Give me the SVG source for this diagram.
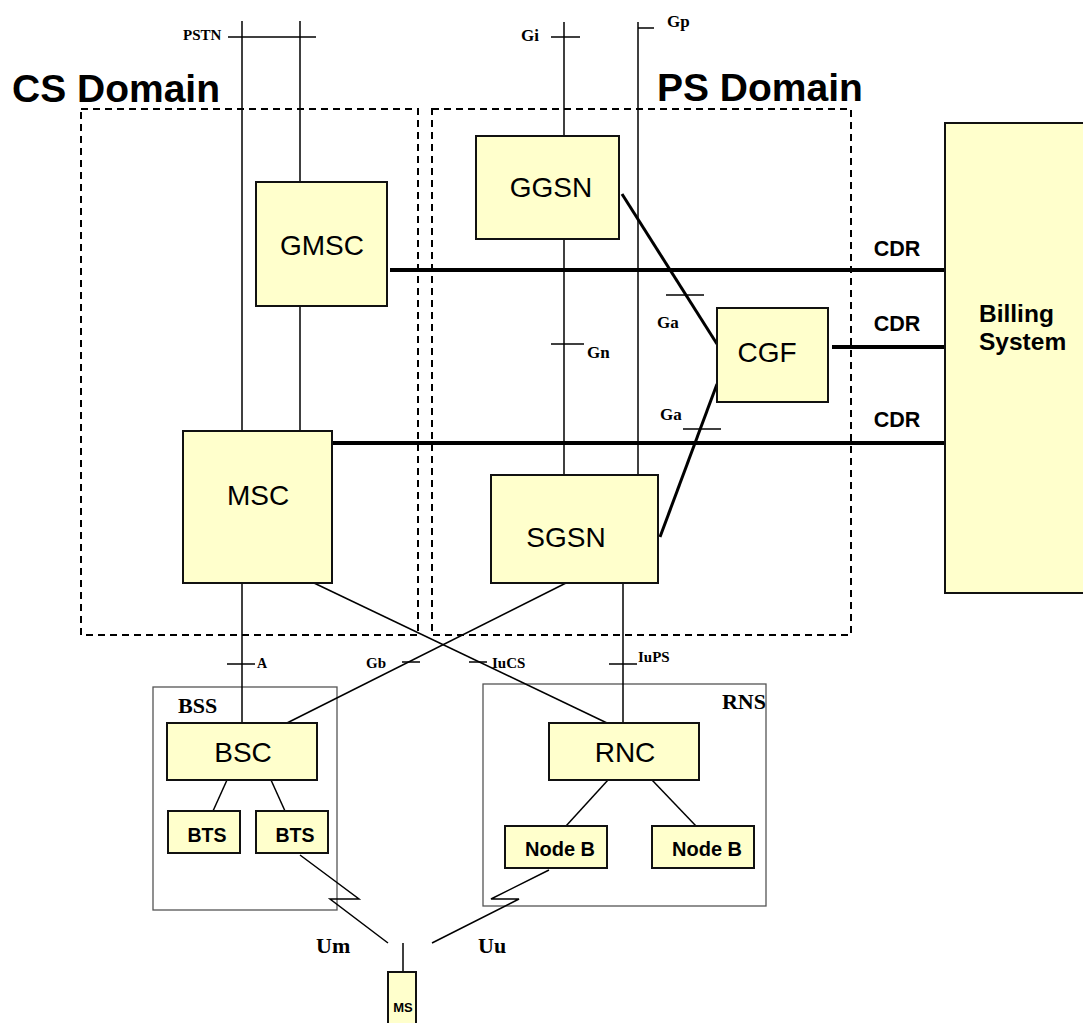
<svg xmlns="http://www.w3.org/2000/svg" width="1083" height="1023" viewBox="0 0 1083 1023">
<style>
.node{fill:#FFFFCC;stroke:#111;stroke-width:2}
.nt{font-family:"Liberation Sans",Arial,sans-serif;font-size:28px;fill:#000;text-anchor:middle}
.bt{font-family:"Liberation Sans",Arial,sans-serif;font-weight:bold;fill:#000}
.lab{font-family:"Liberation Serif","Times New Roman",serif;font-weight:bold;fill:#000}
.thin{stroke:#000;stroke-width:1.5;fill:none}
.thick{stroke:#000;stroke-width:4;fill:none}
.ga{stroke:#000;stroke-width:3;fill:none}
.dash{stroke:#000;stroke-width:2;fill:none;stroke-dasharray:7,5}
.sub{stroke:#555;stroke-width:1.3;fill:none}
</style>
<rect width="1083" height="1023" fill="#fff"/>
<g id="domains">
<rect class="dash" x="81" y="109" width="337" height="526"/>
<rect class="dash" x="432" y="109" width="419" height="526" stroke-width="2.5"/>
<text class="bt" x="12" y="102" font-size="39">CS Domain</text>
<text class="bt" x="657" y="101" font-size="39">PS Domain</text>
</g>
<g id="subsystems">
<rect class="sub" x="153" y="687" width="184" height="223"/>
<text class="lab" x="178" y="713" font-size="22">BSS</text>
<rect class="sub" x="483" y="684" width="283" height="222"/>
<text class="lab" x="766" y="709" font-size="22" text-anchor="end">RNS</text>
</g>
<g id="connectors">
<line class="thin" x1="242" y1="21" x2="242" y2="431"/>
<line class="thin" x1="300" y1="21" x2="300" y2="182"/>
<line class="thin" x1="300" y1="306" x2="300" y2="431"/>
<line class="thin" x1="228" y1="37" x2="316" y2="37"/>
<line class="thin" x1="564" y1="22" x2="564" y2="136"/>
<line class="thin" x1="564" y1="239" x2="564" y2="475"/>
<line class="thin" x1="551" y1="37" x2="580" y2="37"/>
<line class="thin" x1="638" y1="22" x2="638" y2="475"/>
<line class="thin" x1="638" y1="28" x2="654" y2="28"/>
<line class="thin" x1="551" y1="344" x2="584" y2="344"/>
<line class="thick" x1="390" y1="270" x2="946" y2="270"/>
<line class="thick" x1="832" y1="347" x2="946" y2="347"/>
<line class="thick" x1="333" y1="443" x2="946" y2="443"/>
<line class="ga" x1="622" y1="194" x2="717" y2="344"/>
<line class="thin" x1="666" y1="295" x2="704" y2="295"/>
<line class="ga" x1="717" y1="384" x2="660" y2="537"/>
<line class="thin" x1="683" y1="429" x2="721" y2="429"/>
<line class="thin" x1="242" y1="583" x2="242" y2="723"/>
<line class="thin" x1="227" y1="664" x2="255" y2="664"/>
<line class="thin" x1="566" y1="583" x2="287" y2="723"/>
<line class="thin" x1="402" y1="662" x2="420" y2="662"/>
<line class="thin" x1="314" y1="583" x2="607" y2="723"/>
<line class="thin" x1="469" y1="662" x2="487" y2="662"/>
<line class="thin" x1="623" y1="583" x2="623" y2="723"/>
<line class="thin" x1="609" y1="664" x2="637" y2="664"/>
<line class="thin" x1="227" y1="780" x2="213" y2="811"/>
<line class="thin" x1="271" y1="780" x2="285" y2="811"/>
<line class="thin" x1="608" y1="780" x2="566" y2="826"/>
<line class="thin" x1="652" y1="780" x2="696" y2="826"/>
<polyline class="thin" points="300,855 359,899 330,899 388,943"/>
<polyline class="thin" points="549,870 491,899 519,899 432,943"/>
<line class="thin" x1="403" y1="943" x2="403" y2="972"/>
</g>
<g id="labels">
<text class="lab" x="183" y="40" font-size="15">PSTN</text>
<text class="lab" x="521" y="41" font-size="17">Gi</text>
<text class="lab" x="667" y="27" font-size="17">Gp</text>
<text class="lab" x="587" y="358" font-size="17">Gn</text>
<text class="lab" x="657" y="328" font-size="17">Ga</text>
<text class="lab" x="660" y="420" font-size="17">Ga</text>
<text class="lab" x="257" y="668" font-size="14">A</text>
<text class="lab" x="366" y="668" font-size="15">Gb</text>
<text class="lab" x="492" y="668" font-size="15">IuCS</text>
<text class="lab" x="638" y="662" font-size="15">IuPS</text>
<text class="lab" x="316" y="953" font-size="22">Um</text>
<text class="lab" x="478" y="953" font-size="22">Uu</text>
<text class="bt" x="897" y="256" font-size="21.5" text-anchor="middle">CDR</text>
<text class="bt" x="897" y="331" font-size="21.5" text-anchor="middle">CDR</text>
<text class="bt" x="897" y="427" font-size="21.5" text-anchor="middle">CDR</text>
</g>
<g id="gmsc"><rect class="node" x="256" y="182" width="131" height="124"/><text class="nt" x="322" y="255">GMSC</text></g>
<g id="ggsn"><rect class="node" x="476" y="136" width="143" height="103"/><text class="nt" x="551" y="197">GGSN</text></g>
<g id="cgf"><rect class="node" x="717" y="308" width="111" height="94"/><text class="nt" x="767" y="362">CGF</text></g>
<g id="msc"><rect class="node" x="183" y="431" width="149" height="152"/><text class="nt" x="258" y="505">MSC</text></g>
<g id="sgsn"><rect class="node" x="491" y="475" width="167" height="108"/><text class="nt" x="566" y="547">SGSN</text></g>
<g id="billing"><rect class="node" x="945" y="123" width="150" height="470"/><text class="bt" x="979" y="322" font-size="24.5">Billing</text><text class="bt" x="979" y="350" font-size="24.5">System</text></g>
<g id="bsc"><rect class="node" x="167" y="723" width="150" height="57"/><text class="nt" x="243" y="762">BSC</text></g>
<g id="bts1"><rect class="node" x="168" y="811" width="72" height="42"/><text class="bt" x="207" y="842" font-size="19.5" text-anchor="middle">BTS</text></g>
<g id="bts2"><rect class="node" x="256" y="811" width="72" height="42"/><text class="bt" x="295" y="842" font-size="19.5" text-anchor="middle">BTS</text></g>
<g id="rnc"><rect class="node" x="549" y="723" width="150" height="57"/><text class="nt" x="625" y="762">RNC</text></g>
<g id="nodeb1"><rect class="node" x="505" y="826" width="102" height="42"/><text class="bt" x="560" y="856" font-size="20" text-anchor="middle">Node B</text></g>
<g id="nodeb2"><rect class="node" x="652" y="826" width="102" height="42"/><text class="bt" x="707" y="856" font-size="20" text-anchor="middle">Node B</text></g>
<g id="ms"><rect class="node" x="388" y="972" width="28" height="60"/><text class="bt" x="403" y="1012" font-size="13" text-anchor="middle">MS</text></g>
</svg>
